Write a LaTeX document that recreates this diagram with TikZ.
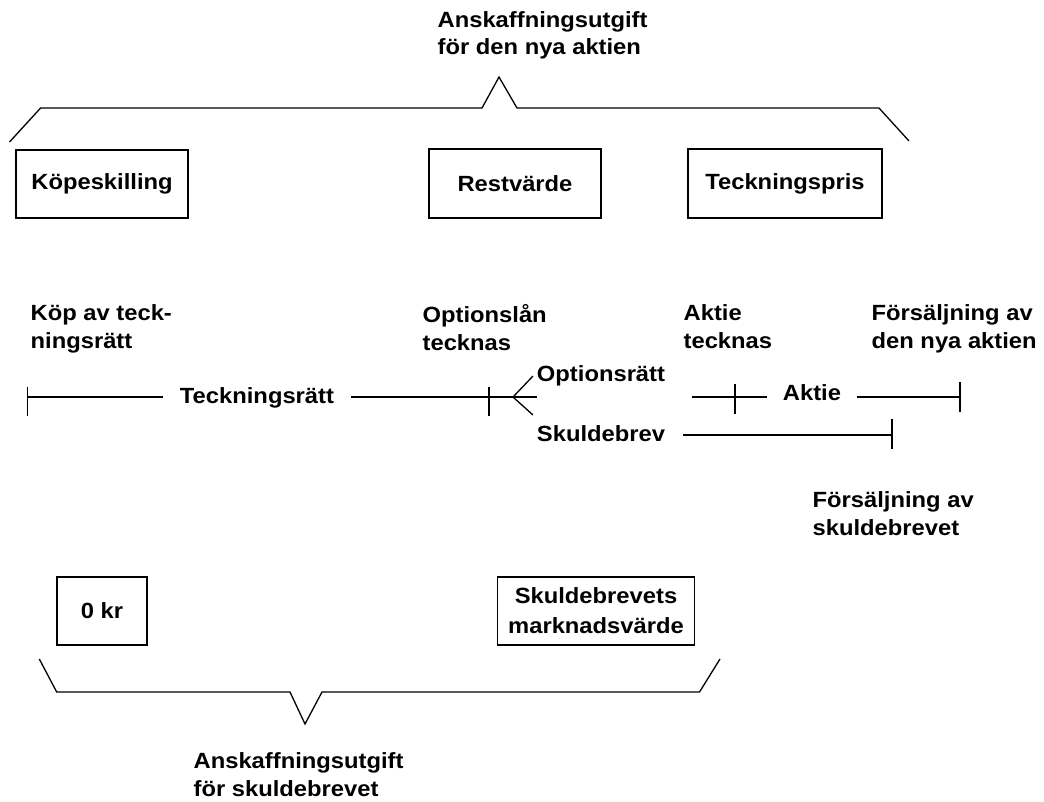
\documentclass[tikz,border=0pt]{standalone}
\usepackage{fontspec}
\setmainfont{Liberation Sans}[FakeStretch=1.08]
\newcommand\lblfont{\fontsize{22}{27.5}\selectfont\bfseries}
\newcommand\boxfontwide{\fontsize{22}{30}\selectfont\bfseries}
\begin{document}
\begin{tikzpicture}[x=1pt,y=-1pt,line width=1.3pt,
  lbl/.style={font=\lblfont, inner sep=0pt},
  mlbl/.style={font=\lblfont, inner sep=0pt, align=left, anchor=north west},
  box/.style={draw, line width=1.3pt, inner sep=0pt, font=\lblfont, align=center}]
\useasboundingbox (0,0) rectangle (1044,801);

% ---- top: acquisition cost of the new share
\node[mlbl] (ttop) at (437,10.5) {Anskaffningsutgift\\för den nya aktien};
\draw (9.5,142) -- (40.6,108) -- (482,108) -- (499,77) -- (517,108) -- (879,108) -- (909,141);

\node[box, minimum width=172pt, minimum height=68pt] (kop)  at (102,184)   {Köpeskilling};
\node[box, minimum width=172pt, minimum height=69pt] (rest) at (515,183.5) {Restvärde};
\node[box, minimum width=194pt, minimum height=69pt] (teck) at (785,183.5) {Teckningspris};

% ---- event labels
\node[mlbl] (ev1) at (30,304)  {Köp av teck-\\ningsrätt};
\node[mlbl] (ev2) at (422,304) {Optionslån\\tecknas};
\node[mlbl] (ev3) at (683,304) {Aktie\\tecknas};
\node[mlbl] (ev4) at (871,304) {Försäljning av\\den nya aktien};
\node[mlbl] (ev5) at (812,491) {Försäljning av\\skuldebrevet};

% ---- time line
\coordinate (t1) at (27.5,397);
\coordinate (t2) at (489,397);
\coordinate (fork) at (513,397);
\coordinate (fend) at (536.5,397);
\draw (27.5,386.7) -- (27.5,416);
\draw (489,386.7) -- (489,416);
\node[lbl, inner xsep=16pt, anchor=base] (tr) at (257,403) {Teckningsrätt};
\draw (t1) -- (t1 -| tr.west);
\draw (t1 -| tr.east) -- (t2) -- (fend);
\draw (533,376) -- (fork) -- (533,415);

\node[lbl, anchor=base] (opt) at (601,381) {Optionsrätt};
\node[lbl, anchor=base] (sku) at (601,441) {Skuldebrev};

% share branch
\coordinate (a0) at (692,397);
\coordinate (a2) at (960,397);
\node[lbl, inner xsep=15pt, anchor=base] (akt) at (812,400) {Aktie};
\draw (a0) -- (a0 -| akt.west);
\draw (a0 -| akt.east) -- (a2);
\draw (735,384) -- (735,414);
\draw (960,382) -- (960,412);

% debt branch
\coordinate (s1) at (683,435);
\coordinate (s2) at (892,435);
\draw (s1) -- (s2);
\draw (892,419) -- (892,449);

% ---- bottom: acquisition cost of the debt instrument
\node[box, minimum width=90pt,  minimum height=68pt] (zero) at (102,611) {0 kr};
\node[box, font=\boxfontwide, minimum width=196.5pt, minimum height=68pt] (skv) at (596,611) {Skuldebrevets\\marknadsvärde};
\draw (39.3,659) -- (56.7,692) -- (290,692) -- (305,724) -- (322,692) -- (699.5,692) -- (720,659);
\node[mlbl] (tbot) at (193,752) {Anskaffningsutgift\\för skuldebrevet};
\end{tikzpicture}
\end{document}
